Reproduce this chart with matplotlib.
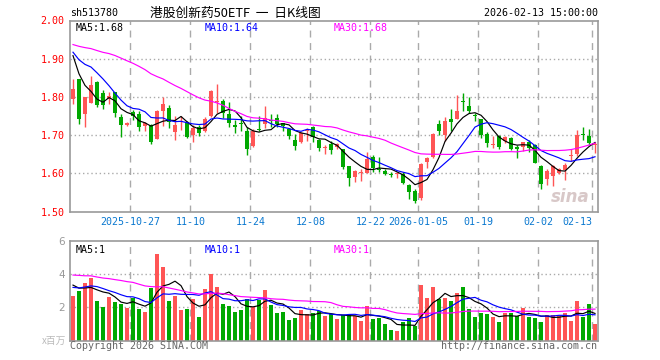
import numpy as np
import pandas as pd
import matplotlib
matplotlib.use("Agg")
import matplotlib.pyplot as plt

# trading sessions shown (New Year holiday removed)
dates = pd.bdate_range("2025-10-13", "2026-02-13")
dates = dates[~dates.isin(pd.to_datetime(["2026-01-01", "2026-01-02"]))]

opens = [1.795, 1.846, 1.755, 1.785, 1.840, 1.811, 1.795, 1.813, 1.747, 1.727,
         1.761, 1.755, 1.724, 1.727, 1.690, 1.762, 1.771, 1.709, 1.733, 1.734,
         1.701, 1.722, 1.711, 1.750, 1.787, 1.790, 1.755, 1.727, 1.732, 1.712,
         1.671, 1.716, 1.729, 1.740, 1.745, 1.732, 1.716, 1.687, 1.683, 1.710,
         1.722, 1.687, 1.666, 1.678, 1.668, 1.663, 1.619, 1.591, 1.601, 1.602,
         1.643, 1.611, 1.606, 1.598, 1.599, 1.598, 1.569, 1.554, 1.536, 1.630,
         1.642, 1.729, 1.700, 1.741, 1.741, 1.789, 1.776, 1.751, 1.741, 1.702,
         1.675, 1.698, 1.685, 1.693, 1.670, 1.670, 1.681, 1.673, 1.619, 1.585,
         1.594, 1.600, 1.608, 1.644, 1.650, 1.703, 1.698, 1.675]
highs = [1.846, 1.848, 1.800, 1.856, 1.842, 1.817, 1.813, 1.814, 1.755, 1.734,
         1.766, 1.762, 1.734, 1.730, 1.766, 1.799, 1.778, 1.750, 1.749, 1.736,
         1.726, 1.726, 1.748, 1.817, 1.834, 1.795, 1.786, 1.740, 1.750, 1.720,
         1.715, 1.750, 1.776, 1.755, 1.755, 1.732, 1.718, 1.703, 1.707, 1.719,
         1.724, 1.689, 1.674, 1.684, 1.680, 1.664, 1.620, 1.608, 1.610, 1.655,
         1.648, 1.643, 1.612, 1.604, 1.604, 1.603, 1.572, 1.558, 1.626, 1.643,
         1.705, 1.740, 1.747, 1.768, 1.805, 1.811, 1.801, 1.759, 1.743, 1.709,
         1.698, 1.701, 1.698, 1.696, 1.674, 1.683, 1.687, 1.678, 1.622, 1.610,
         1.622, 1.613, 1.626, 1.663, 1.713, 1.720, 1.715, 1.683]
lows = [1.782, 1.729, 1.722, 1.783, 1.773, 1.769, 1.782, 1.748, 1.696, 1.724,
        1.740, 1.712, 1.712, 1.678, 1.689, 1.725, 1.719, 1.687, 1.713, 1.693,
        1.683, 1.697, 1.708, 1.748, 1.757, 1.744, 1.720, 1.706, 1.712, 1.648,
        1.669, 1.712, 1.718, 1.720, 1.720, 1.712, 1.690, 1.661, 1.680, 1.685,
        1.681, 1.659, 1.650, 1.650, 1.663, 1.610, 1.567, 1.578, 1.580, 1.600,
        1.604, 1.604, 1.595, 1.591, 1.587, 1.572, 1.532, 1.523, 1.531, 1.613,
        1.640, 1.700, 1.685, 1.711, 1.741, 1.762, 1.759, 1.738, 1.693, 1.670,
        1.665, 1.664, 1.679, 1.661, 1.639, 1.659, 1.657, 1.626, 1.560, 1.569,
        1.566, 1.598, 1.582, 1.633, 1.645, 1.687, 1.674, 1.654]
closes = [1.820, 1.742, 1.799, 1.831, 1.779, 1.779, 1.803, 1.757, 1.727, 1.731,
          1.750, 1.722, 1.731, 1.683, 1.764, 1.782, 1.735, 1.727, 1.736, 1.695,
          1.718, 1.706, 1.742, 1.816, 1.790, 1.757, 1.731, 1.722, 1.728, 1.663,
          1.712, 1.714, 1.746, 1.736, 1.729, 1.725, 1.698, 1.672, 1.705, 1.713,
          1.694, 1.667, 1.668, 1.661, 1.676, 1.617, 1.589, 1.606, 1.603, 1.637,
          1.614, 1.609, 1.599, 1.596, 1.601, 1.575, 1.551, 1.528, 1.624, 1.641,
          1.703, 1.711, 1.738, 1.733, 1.762, 1.787, 1.762, 1.749, 1.700, 1.680,
          1.677, 1.670, 1.696, 1.663, 1.663, 1.682, 1.665, 1.628, 1.572, 1.606,
          1.619, 1.610, 1.622, 1.646, 1.700, 1.701, 1.680, 1.677]
# volume in millions
volumes = [2.68, 2.98, 3.46, 3.76, 2.38, 2.04, 2.62, 2.32, 2.22, 1.98,
           2.54, 1.90, 1.72, 3.18, 5.20, 4.42, 2.38, 2.68, 1.84, 1.90,
           2.50, 1.42, 3.10, 4.00, 3.22, 2.20, 2.08, 1.72, 1.84, 2.50,
           2.02, 2.44, 3.04, 2.14, 1.66, 1.72, 1.24, 1.36, 1.84, 1.60,
           1.66, 1.78, 1.48, 1.60, 1.30, 1.54, 1.58, 1.46, 1.18, 2.08,
           1.30, 1.36, 1.00, 0.64, 0.58, 1.12, 1.36, 0.90, 3.34, 2.58,
           3.22, 2.50, 2.56, 2.38, 2.86, 3.22, 1.90, 1.42, 1.66, 1.60,
           1.42, 1.12, 1.66, 1.66, 1.48, 1.96, 1.42, 1.36, 1.12, 1.54,
           1.54, 1.48, 1.66, 1.18, 2.38, 1.42, 2.20, 1.00]

# 29 sessions before the window, only needed to seed the moving averages
prior_closes = [1.88, 1.90, 1.91, 1.93, 1.92, 1.90, 1.91, 1.93, 1.94, 1.95,
                1.96, 1.99, 2.01, 1.98, 1.97, 2.00, 1.98, 1.96, 1.95, 1.97,
                1.94, 1.92, 1.90, 1.93, 1.94, 1.98, 1.95, 1.91, 1.88]
prior_volumes = [3.6, 4.2, 3.8, 4.5, 3.9, 3.7, 4.1, 3.8, 4.0, 3.9,
                 5.2, 4.8, 4.4, 5.6, 4.3, 4.6, 4.9, 4.2, 4.5, 4.2,
                 3.3, 2.9, 3.1, 2.8, 3.2, 3.9, 3.4, 3.6, 3.1]

tick_dates = ["2025-10-27", "2025-11-10", "2025-11-24", "2025-12-08", "2025-12-22",
              "2026-01-05", "2026-01-19", "2026-02-02", "2026-02-13"]
tick_labels = ["2025-10-27", "11-10", "11-24", "12-08", "12-22",
               "2026-01-05", "01-19", "02-02", "02-13"]

RED = "#ff5555"
GREEN = "#00a800"
GRAY = "#999999"
MONO = "DejaVu Sans Mono"
CJK = ["Noto Sans CJK SC", "DejaVu Sans"]

o = np.array(opens); h = np.array(highs); l = np.array(lows); c = np.array(closes)
v = np.array(volumes)
n = len(c)
x = np.arange(n)
up = c >= o
colors = np.where(up, RED, GREEN)

pc = pd.Series(prior_closes + closes)
pv = pd.Series(prior_volumes + volumes)
k = len(prior_closes)
ma = {p: pc.rolling(p).mean().to_numpy()[k:] for p in (5, 10, 30)}
vma = {p: pv.rolling(p).mean().to_numpy()[k:] for p in (5, 10, 30)}
ma_colors = {5: "black", 10: "#0000ff", 30: "#ff00ff"}

W, H = 660, 360
fig = plt.figure(figsize=(W / 100, H / 100), dpi=100)
fig.patch.set_facecolor("white")

ax = fig.add_axes([70 / W, 1 - 211.5 / H, 528 / W, 191 / H])
axv = fig.add_axes([70 / W, 1 - 340.7 / H, 528 / W, 100 / H])

pos = [int(np.where(dates == pd.Timestamp(d))[0][0]) for d in tick_dates]

for a in (ax, axv):
    a.set_xlim(-0.5, n - 0.5)
    for s in a.spines.values():
        s.set_color(GRAY)
        s.set_linewidth(1.2)
    a.tick_params(length=0)
    for p in pos:
        a.axvline(p - 0.42, color="#aaaaaa", lw=1, ls=(0, (5, 4)), zorder=0)

# candles
ax.vlines(x, l, h, colors=colors, lw=1, zorder=2)
body = np.maximum(np.abs(c - o), 0.0028)
ax.bar(x, body, bottom=np.minimum(o, c), width=0.8, color=colors, lw=0, zorder=3)
for p in (5, 10, 30):
    ax.plot(x, ma[p], color=ma_colors[p], lw=0.85, zorder=4)

ax.set_ylim(1.5, 2.0)
yt = [1.5, 1.6, 1.7, 1.8, 1.9, 2.0]
ax.set_yticks(yt)
ax.set_yticklabels([f"{t:.2f}" for t in yt], color="red", family=MONO, fontsize=7.2)
for t in yt[1:-1]:
    ax.axhline(t, color="#aaaaaa", lw=1, ls=(0, (1, 2)), zorder=0)
ax.set_xticks([p - 0.42 for p in pos])
ax.set_xticklabels(tick_labels, color="#0a78d0", family=MONO, fontsize=7.2)
ax.get_xticklabels()[-1].set_horizontalalignment("right")
ax.tick_params(axis="x", pad=4)
ax.tick_params(axis="y", pad=4)

ax.text(0.01, 0.985, f"MA5:{ma[5][-1]:.2f}", transform=ax.transAxes, va="top",
        color="black", family=MONO, fontsize=7.2)
ax.text(0.255, 0.985, f"MA10:{ma[10][-1]:.2f}", transform=ax.transAxes, va="top",
        color="#0000ff", family=MONO, fontsize=7.2)
ax.text(0.5, 0.985, f"MA30:{ma[30][-1]:.2f}", transform=ax.transAxes, va="top",
        color="#ff00ff", family=MONO, fontsize=7.2)
ax.text(0.985, 0.03, "sina", transform=ax.transAxes, ha="right", va="bottom",
        color="#d8c8c8", fontsize=12, fontweight="bold", style="italic", zorder=1)

# volume
axv.bar(x, v, width=0.8, color=colors, lw=0, zorder=2)
for p in (5, 10, 30):
    axv.plot(x, vma[p], color=ma_colors[p], lw=0.85, zorder=3)
axv.set_ylim(0, 6)
axv.set_yticks([2, 4, 6])
axv.set_yticklabels(["2", "4", "6"], color=GRAY, fontsize=7.5)
axv.set_xticks([])
for t in (2, 4):
    axv.axhline(t, color="#aaaaaa", lw=1, ls=(0, (1, 2)), zorder=0)
axv.text(0.01, 0.96, f"MA5:{int(vma[5][-1])}", transform=axv.transAxes, va="top",
         color="black", family=MONO, fontsize=7.2)
axv.text(0.255, 0.96, f"MA10:{int(vma[10][-1])}", transform=axv.transAxes, va="top",
         color="#0000ff", family=MONO, fontsize=7.2)
axv.text(0.5, 0.96, f"MA30:{int(vma[30][-1])}", transform=axv.transAxes, va="top",
         color="#ff00ff", family=MONO, fontsize=7.2)

# header and footer
fig.text(70 / W, 1 - 13 / H, "sh513780", va="center", family=MONO, fontsize=7.2)
fig.text(150 / W, 1 - 13 / H, "港股创新药50ETF  一  日K线图", va="center",
         family=CJK, fontsize=9.2)
fig.text(598 / W, 1 - 13 / H, "2026-02-13 15:00:00", ha="right", va="center",
         family=MONO, fontsize=7.2)
fig.text(66 / W, 1 - 341 / H, "x百万", ha="right", va="center",
         family=CJK, fontsize=7, color="#bbbbbb")
fig.text(70 / W, 1 - 346 / H, "Copyright 2026 SINA.COM", va="center",
         family=MONO, fontsize=7.2, color="#666666")
fig.text(597 / W, 1 - 346 / H, "http://finance.sina.com.cn", ha="right", va="center",
         family=MONO, fontsize=7.2, color="#666666")

fig.savefig("out.png", dpi=100)
